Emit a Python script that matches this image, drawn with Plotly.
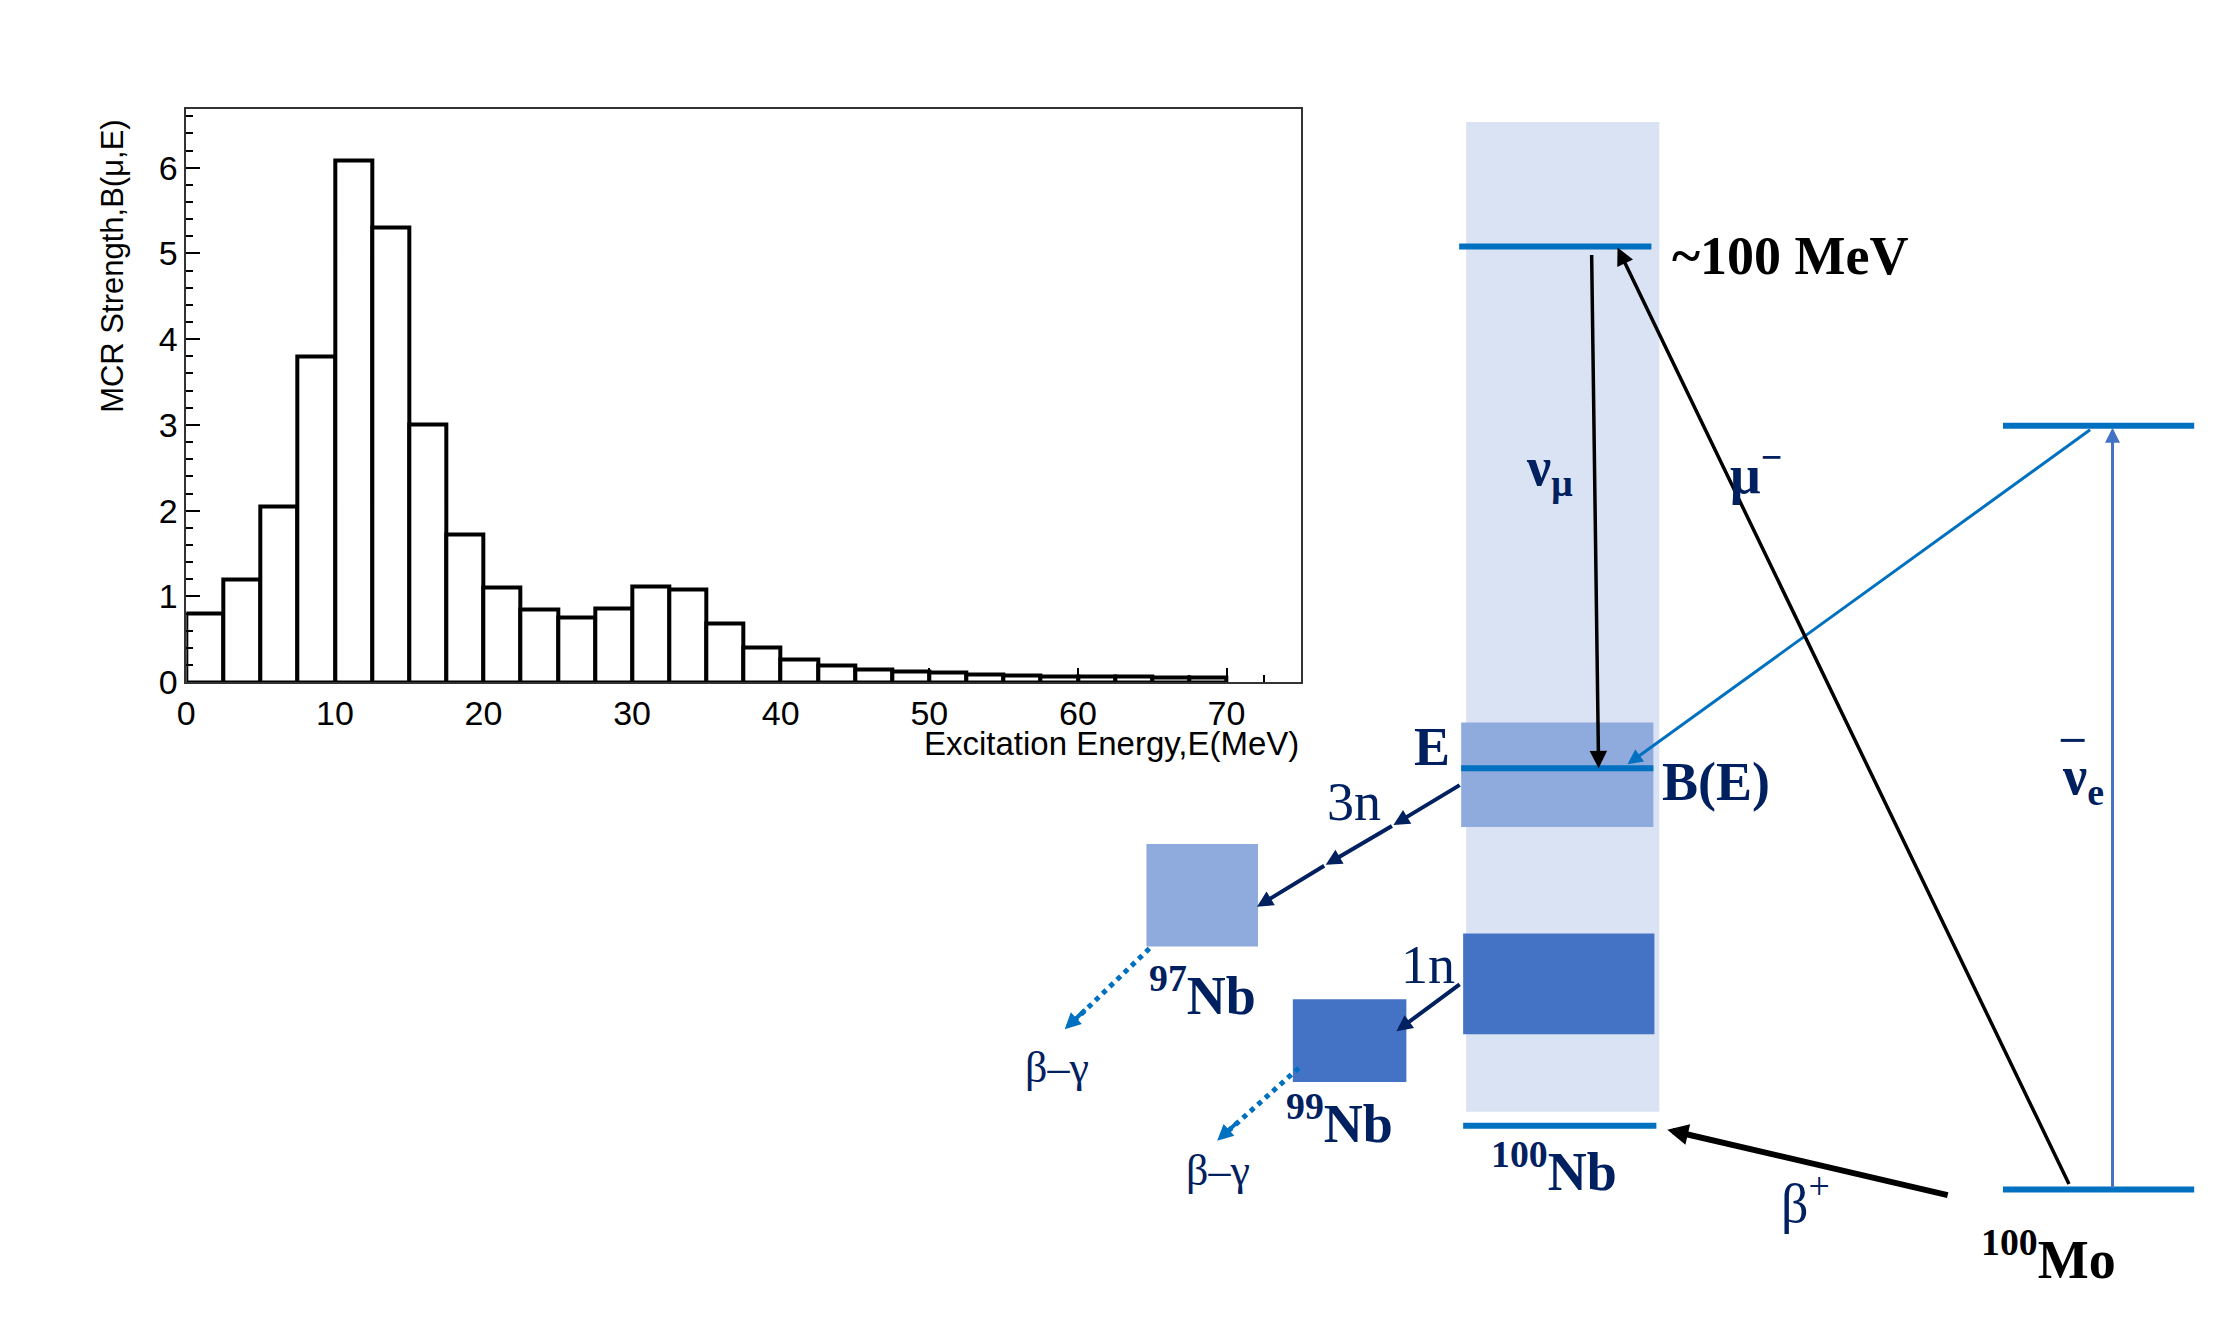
import plotly.graph_objects as go

bin_left = [i*2.5 for i in range(28)]
strength = [0.8,1.2,2.05,3.8,6.08,5.3,3.0,1.72,1.1,0.85,0.75,0.86,1.12,1.08,0.68,0.41,0.27,0.2,0.15,0.12,0.11,0.09,0.08,0.07,0.07,0.07,0.05,0.05]
xticks = [0,10,20,30,40,50,60,70]
yticks = [0,1,2,3,4,5,6]

W, H = 2235, 1325
DX, DY = -16, -6
fig = go.Figure()
fig.add_trace(go.Bar(x=[b+1.25 for b in bin_left], y=strength, width=2.5,
                     marker=dict(color="white", line=dict(color="black", width=4)),
                     xaxis="x", yaxis="y", showlegend=False))
fig.add_trace(go.Scatter(x=[0, W], y=[0, H], mode="markers", marker=dict(opacity=0),
                         xaxis="x2", yaxis="y2", showlegend=False, hoverinfo="skip"))

tickfont = dict(family="Liberation Sans", size=34, color="black")
fig.update_layout(
    width=W, height=H, margin=dict(l=0, r=0, t=0, b=0),
    paper_bgcolor="white", plot_bgcolor="rgba(0,0,0,0)", bargap=0,
    xaxis=dict(domain=[(186+DX)/W, (1305+DX)/W], anchor="y", range=[0, 75], tickvals=xticks,
               ticks="inside", ticklen=14, tickwidth=1.5, tickcolor="black",
               minor=dict(dtick=2.5, ticks="inside", ticklen=7, tickcolor="black"),
               showline=True, linecolor="#333", linewidth=1.5, mirror=True,
               showgrid=False, zeroline=False, tickfont=tickfont),
    yaxis=dict(domain=[1-(690+DY)/H, 1-(108+DY)/H], anchor="x", range=[0, 6.69], tickvals=yticks,
               ticks="inside", ticklen=14, tickwidth=1.5, tickcolor="black",
               minor=dict(dtick=0.2, ticks="inside", ticklen=7, tickcolor="black"),
               showline=True, linecolor="#333", linewidth=1.5, mirror=True,
               showgrid=False, zeroline=False, tickfont=tickfont),
    xaxis2=dict(domain=[0, 1], anchor="y2", range=[-DX, W-DX], visible=False),
    yaxis2=dict(domain=[0, 1], anchor="x2", range=[H-DY, -DY], visible=False),
)

def fy(y):
    return 248 + (y - 245) * 1.0102

navy = "#002060"
shapes = []
def rect(x0, y0, x1, y1, c):
    shapes.append(dict(type="rect", xref="x2", yref="y2", x0=x0, y0=fy(y0), x1=x1, y1=fy(y1),
                       fillcolor=c, line=dict(width=0), layer="below"))
def line(x0, y0, x1, y1, c, w, dash="solid"):
    shapes.append(dict(type="line", xref="x2", yref="y2", x0=x0, y0=fy(y0), x1=x1, y1=fy(y1),
                       line=dict(color=c, width=w, dash=dash)))

rect(1471, 120, 1665, 1114, "#DAE3F3")
rect(1466, 723, 1659, 828, "#8FAADC")
rect(1468, 935, 1660, 1036, "#4472C4")
rect(1150, 845, 1262, 948, "#8FAADC")
rect(1297, 1001, 1411, 1084, "#4472C4")
line(1464, 245, 1657, 245, "#0070C0", 6)
line(1466, 769, 1659, 769, "#0070C0", 6)
line(1468, 1128, 1662, 1128, "#0070C0", 6)
line(2010, 425, 2202, 425, "#0070C0", 6)
line(2010, 1192, 2202, 1192, "#0070C0", 6)
line(1153, 950, 1075, 1025, "#0070C0", 5, "dot")
line(1303, 1070, 1228, 1137, "#0070C0", 5, "dot")
line(2068, 741, 2092, 741, navy, 3)
fig.update_layout(shapes=shapes)

anns = []
def arrow(x0, y0, x1, y1, c, w, size=1.0, head=2):
    anns.append(dict(x=x1, y=fy(y1), ax=x0, ay=fy(y0), xref="x2", yref="y2", axref="x2", ayref="y2",
                     showarrow=True, arrowhead=head, arrowsize=size, arrowwidth=w,
                     arrowcolor=c, text=""))
def text(x, y, t, size, c=navy, bold=True, xa="center"):
    anns.append(dict(x=x, y=fy(y), xref="x2", yref="y2", text=(f"<b>{t}</b>" if bold else t),
                     showarrow=False, xanchor=xa, yanchor="middle",
                     font=dict(family="Liberation Serif", size=size, color=c)))

arrow(2120, 1192, 2120, 427, "#4472C4", 3)
arrow(2099, 428, 1633, 765, "#0070C0", 3)
arrow(2077, 1188, 1623, 246, "black", 3.5)
arrow(1597, 252, 1604, 769, "black", 3.5)
arrow(1956, 1198, 1673, 1132, "black", 6, 0.7)
arrow(1466, 785, 1398, 826, navy, 4, 0.8)
arrow(1398, 826, 1330, 866, navy, 4, 0.8)
arrow(1330, 866, 1261, 908, navy, 4, 0.8)
arrow(1466, 985, 1401, 1033, navy, 4, 0.8)
arrow(1090, 1010, 1068, 1031, "#0070C0", 4, 0.8)
arrow(1243, 1123, 1221, 1143, "#0070C0", 4, 0.8)

text(1676, 255, "~100 MeV", 54, "black", xa="left")
text(1555, 470, "ν<sub>μ</sub>", 54)
text(1762, 470, "μ<sup>−</sup>", 54)
text(2090, 780, "ν<sub>e</sub>", 54)
text(1437, 748, "E", 54)
text(1666, 783, "B(E)", 54, xa="left")
text(1358, 803, "3n", 54, bold=False)
text(1433, 967, "1n", 54, bold=False)
text(1206, 993, "<sup>97</sup>Nb", 54)
text(1344, 1122, "<sup>99</sup>Nb", 54)
text(1559, 1170, "<sup>100</sup>Nb", 54)
text(2056, 1258, "<sup>100</sup>Mo", 54, "black")
text(1812, 1202, "β<sup>+</sup>", 54, bold=False)
text(1060, 1070, "β–γ", 44, bold=False)
text(1222, 1173, "β–γ", 44, bold=False)

anns.append(dict(x=(1305+DX)/W, y=1-(752+DY)/H, xref="paper", yref="paper", text="Excitation Energy,E(MeV)",
                 showarrow=False, xanchor="right", yanchor="middle",
                 font=dict(family="Liberation Sans", size=33, color="black")))
anns.append(dict(x=(112+DX)/W, y=1-(268+DY)/H, xref="paper", yref="paper", text="MCR Strength,B(μ,E)",
                 showarrow=False, textangle=-90, xanchor="center", yanchor="middle",
                 font=dict(family="Liberation Sans", size=31, color="black")))
fig.update_layout(annotations=anns)
fig.write_html("out.html")
